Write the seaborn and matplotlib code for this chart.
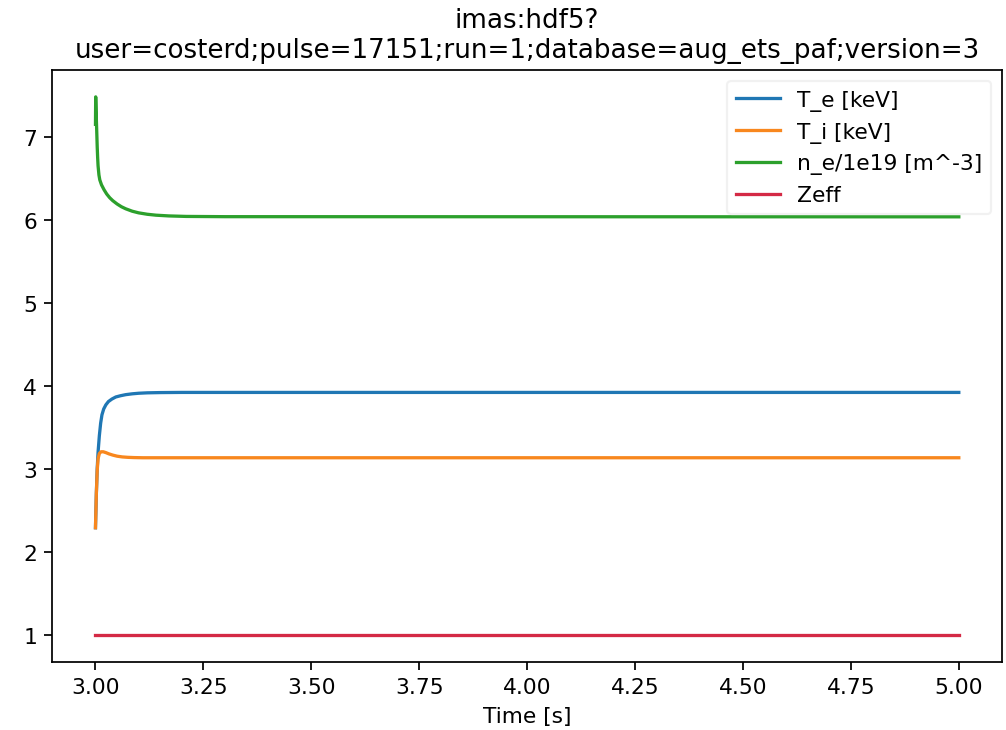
import numpy as np
import pandas as pd
import matplotlib
matplotlib.use("Agg")
import matplotlib.pyplot as plt
import seaborn as sns

# values
t_e_time = [3.000, 3.002, 3.004, 3.006, 3.009, 3.012, 3.015, 3.019, 3.024, 3.030, 3.038, 3.047, 3.058,
            3.070, 3.085, 3.100, 3.120, 3.150, 3.200, 5.000]
t_e_vals = [2.29, 2.70, 3.00, 3.20, 3.40, 3.55, 3.65, 3.72, 3.77, 3.81, 3.84, 3.865, 3.88,
            3.893, 3.903, 3.91, 3.915, 3.918, 3.92, 3.92]

t_i_time = [3.000, 3.002, 3.004, 3.006, 3.009, 3.013, 3.018, 3.024, 3.031, 3.040, 3.050, 3.062,
            3.075, 3.090, 3.110, 5.000]
t_i_vals = [2.29, 2.70, 2.98, 3.12, 3.185, 3.205, 3.205, 3.195, 3.18, 3.165, 3.152, 3.143,
            3.138, 3.135, 3.133, 3.133]

n_e_time = [3.000, 3.0005, 3.0015, 3.003, 3.004, 3.005, 3.006, 3.008, 3.010, 3.014, 3.020, 3.026,
            3.033, 3.040, 3.050, 3.060, 3.070, 3.085, 3.100, 3.120, 3.140, 3.170, 3.210, 3.300, 5.000]
n_e_vals = [7.15, 7.48, 7.30, 7.05, 6.88, 6.75, 6.65, 6.54, 6.48, 6.42, 6.36, 6.31,
            6.265, 6.23, 6.19, 6.157, 6.132, 6.103, 6.083, 6.066, 6.055, 6.046, 6.040, 6.037, 6.035]

zeff_time = [3.000, 5.000]
zeff_vals = [1.0, 1.0]

title = "imas:hdf5?\nuser=costerd;pulse=17151;run=1;database=aug_ets_paf;version=3"

series = [
    ("T_e [keV]", t_e_time, t_e_vals, "#1f77b4"),
    ("T_i [keV]", t_i_time, t_i_vals, "#f8871e"),
    ("n_e/1e19 [m^-3]", n_e_time, n_e_vals, "#2ca02c"),
    ("Zeff", zeff_time, zeff_vals, "#d42a45"),
]

fig = plt.figure(figsize=(1006 / 157, 731 / 157), dpi=157)
ax = fig.add_axes([0.052, 0.0934, 0.944, 0.8095])

for label, tt, vv, col in series:
    df = pd.DataFrame({"time": tt, "value": vv})
    sns.lineplot(data=df, x="time", y="value", ax=ax, color=col, label=label,
                 sort=False, estimator=None)

ax.set_xticks(np.arange(3.0, 5.01, 0.25))
ax.set_xlabel("Time [s]")
ax.set_ylabel("")
ax.set_title(title)
leg = ax.legend(loc="upper right")
leg.get_frame().set_edgecolor("#eeeeee")

fig.savefig("out.png", dpi=157)
